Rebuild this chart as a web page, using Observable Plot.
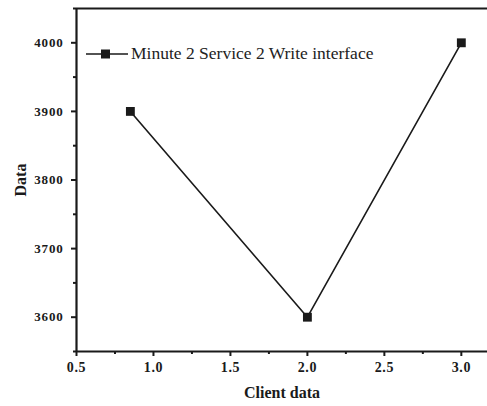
<!DOCTYPE html>
<html><head><meta charset="utf-8">
<script src="https://cdn.jsdelivr.net/npm/d3@7"></script>
<script src="https://cdn.jsdelivr.net/npm/@observablehq/plot@0.6"></script>
<style>
body{margin:0;background:#fff;}
#wrap{position:relative;width:487px;height:406px;font-family:"Liberation Serif","Times New Roman",serif;}
#legend{position:absolute;left:86px;top:43px;display:flex;align-items:center;font-family:"Liberation Serif","Times New Roman",serif;font-size:17.5px;color:#222;white-space:nowrap;}
</style></head>
<body><div id="wrap"><div id="legend"></div></div>
<script>
const seriesName = "Minute 2 Service 2 Write interface";
const xValues = [0.85, 2.0, 3.0];
const yValues = [3900, 3600, 4000];
const xTicks = [0.5, 1.0, 1.5, 2.0, 2.5, 3.0];
const xMinor = [0.75, 1.25, 1.75, 2.25, 2.75];
const yTicks = [3600, 3700, 3800, 3900, 4000];
const yMinor = [3550, 3650, 3750, 3850, 3950, 4050];

const data = xValues.map((x, i) => ({x, y: yValues[i]}));
const ink = "#1a1a1a";

const chart = Plot.plot({
  width: 487, height: 406,
  marginLeft: 76, marginTop: 8, marginBottom: 55, marginRight: 0,
  style: {fontFamily: "'Liberation Serif','Times New Roman',serif", background: "#fff", color: ink},
  x: {domain: [0.5, 3.17]},
  y: {domain: [3550, 4050]},
  marks: [
    Plot.axisX({ticks: xTicks, tickFormat: d3.format(".1f"), tickSize: 5, tickPadding: 6, fontSize: 14, fontWeight: "bold", stroke: ink, strokeWidth: 2, strokeOpacity: 1,
      label: "Client data", labelAnchor: "center", labelArrow: "none", labelOffset: 46}),
    Plot.axisX({ticks: xMinor, tickSize: 3, text: null, label: null, stroke: ink, strokeWidth: 2, strokeOpacity: 1}),
    Plot.axisY({ticks: yTicks, tickSize: 5, tickPadding: 8, fontSize: 13, fontWeight: "bold", stroke: ink, strokeWidth: 2, strokeOpacity: 1, tickFormat: d => String(d),
      label: "Data", labelAnchor: "center", labelArrow: "none", labelOffset: 62}),
    Plot.axisY({ticks: yMinor, tickSize: 3, text: null, label: null, stroke: ink, strokeWidth: 2, strokeOpacity: 1}),
    Plot.ruleX([0.5], {stroke: ink, strokeWidth: 2.2}),
    Plot.ruleY([3550], {stroke: ink, strokeWidth: 2.2}),
    Plot.ruleY([4050], {stroke: ink, strokeWidth: 2.2}),
    Plot.line(data, {x: "x", y: "y", stroke: ink, strokeWidth: 1.6}),
    Plot.dot(data, {x: "x", y: "y", symbol: "square", r: 5, fill: ink, stroke: "none"})
  ]
});
chart.querySelectorAll("g[aria-label='y-axis tick label'] text").forEach(t => { t.style.letterSpacing = "0.8px"; });
chart.querySelectorAll("g[aria-label='x-axis tick label'] text").forEach(t => { t.style.letterSpacing = "0.6px"; });
chart.querySelectorAll("g[aria-label='x-axis label'], g[aria-label='y-axis label']").forEach(g => {
  g.setAttribute("font-size", "16"); g.setAttribute("font-weight", "bold");
});
document.getElementById("wrap").prepend(chart);

const lg = document.getElementById("legend");
lg.innerHTML = `<svg width="42" height="14" style="margin-right:3px"><line x1="0" y1="7" x2="42" y2="7" stroke="${ink}" stroke-width="1.6"/><rect x="15" y="2.5" width="9" height="9" fill="${ink}"/></svg><span>${seriesName}</span>`;
</script>
</body></html>
